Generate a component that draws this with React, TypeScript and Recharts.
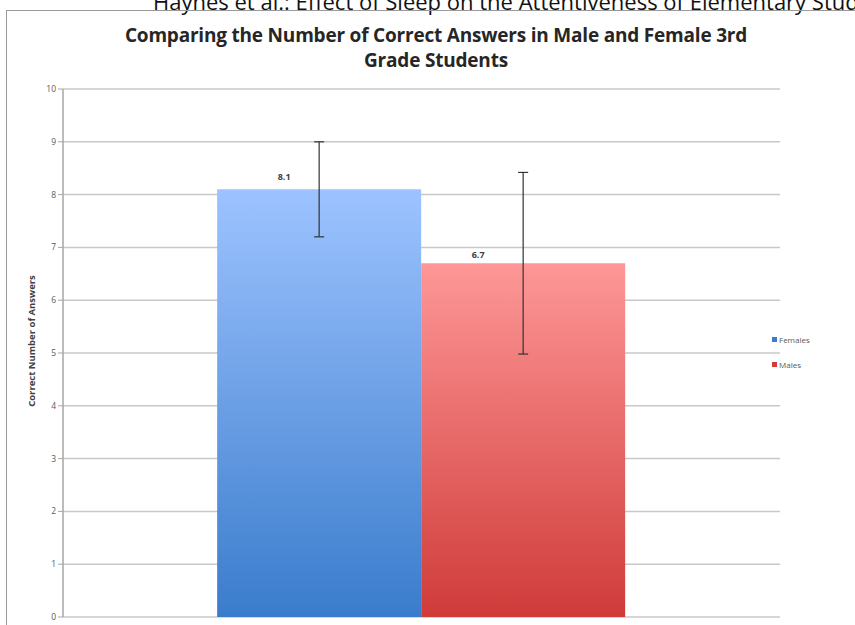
import React from 'react';
import { BarChart, Bar, XAxis, YAxis, CartesianGrid, ErrorBar } from 'recharts';

// values
const groups = ['Females', 'Males'];
const meanAnswers = [8.1, 6.7];
const errorAnswers = [0.9, 1.72];
const yTicks = [0, 1, 2, 3, 4, 5, 6, 7, 8, 9, 10];

const keys = ['females', 'males'];
const gradients: Record<string, [string, string]> = {
  females: ['#9dc3ff', '#3a7ccc'],
  males: ['#fe9797', '#cf3b39'],
};
const labelShift: Record<string, [number, number]> = {
  females: [-35, -9],
  males: [-45, -5],
};

const row: Record<string, number | string> = { name: '' };
keys.forEach((k, i) => {
  row[k] = meanAnswers[i];
  row[k + 'Err'] = errorAnswers[i];
});
const data = [row];

const font = '"Open Sans", sans-serif';

const ValueLabel = (seriesKey: string) => (props: any) => {
  const { x, y, width, value } = props;
  const [dx, dy] = labelShift[seriesKey];
  return (
    <text
      x={x + width / 2 + dx}
      y={y + dy}
      textAnchor="middle"
      fontSize={9}
      fontWeight="bold"
      fill="#404040"
      fontFamily={font}
    >
      {value}
    </text>
  );
};

export default function App() {
  return (
    <div
      style={{
        position: 'absolute',
        left: 0,
        top: 0,
        width: 855,
        height: 625,
        overflow: 'hidden',
        background: '#fff',
        fontFamily: font,
      }}
    >
      <div
        style={{
          position: 'absolute',
          left: 153,
          top: -14,
          fontSize: 22,
          lineHeight: '30px',
          whiteSpace: 'nowrap',
          color: '#111',
        }}
      >
        Haynes et al.: Effect of Sleep on the Attentiveness of Elementary Students
      </div>
      <div
        style={{
          position: 'absolute',
          left: 6,
          top: 10,
          width: 860,
          height: 630,
          borderLeft: '1.5px solid #9a9a9a',
          borderTop: '1.5px solid #9a9a9a',
        }}
      />
      <div
        style={{
          position: 'absolute',
          left: 0,
          top: 23,
          width: 872,
          textAlign: 'center',
          fontSize: 19,
          fontWeight: 'bold',
          lineHeight: '25px',
          color: '#262626',
          letterSpacing: -0.2,
        }}
      >
        Comparing the Number of Correct Answers in Male and Female 3rd
        <br />
        Grade Students
      </div>
      <div style={{ position: 'absolute', left: 0, top: 0 }}>
        <BarChart
          width={855}
          height={625}
          data={data}
          margin={{ top: 89, right: 75, bottom: 8, left: 33 }}
          barCategoryGap="21.5%"
          barGap={0}
        >
          <defs>
            {keys.map((k) => (
              <linearGradient key={k} id={'grad-' + k} x1="0" y1="0" x2="0" y2="1">
                <stop offset="0%" stopColor={gradients[k][0]} />
                <stop offset="100%" stopColor={gradients[k][1]} />
              </linearGradient>
            ))}
          </defs>
          <CartesianGrid vertical={false} stroke="#c8c8c8" strokeWidth={1.5} />
          <XAxis dataKey="name" hide />
          <YAxis
            width={30}
            domain={[0, 10]}
            ticks={yTicks}
            interval={0}
            axisLine={{ stroke: '#a6a6a6', strokeWidth: 1.5 }}
            tickLine={{ stroke: '#a6a6a6' }}
            tickSize={5}
            tick={{ fontSize: 8.5, fill: '#595959', fontFamily: font }}
            label={{
              value: 'Correct Number of Answers',
              angle: -90,
              position: 'insideLeft',
              dx: -6,
              dy: -12,
              style: {
                textAnchor: 'middle',
                fontSize: 9.5,
                fontWeight: 'bold',
                fill: '#404040',
                fontFamily: font,
              },
            }}
          />
          {keys.map((k, i) => (
            <Bar
              key={k}
              dataKey={k}
              name={groups[i]}
              fill={`url(#grad-${k})`}
              isAnimationActive={false}
              label={ValueLabel(k)}
            >
              <ErrorBar dataKey={k + 'Err'} width={5} stroke="#333" strokeWidth={1.2} direction="y" />
            </Bar>
          ))}
        </BarChart>
      </div>
      <div
        style={{
          position: 'absolute',
          left: 772,
          top: 327,
          fontSize: 8,
          color: '#595959',
        }}
      >
        {groups.map((g, i) => (
          <div key={g} style={{ display: 'flex', alignItems: 'center', height: 25 }}>
            <span
              style={{
                display: 'inline-block',
                width: 5,
                height: 5,
                marginRight: 2,
                background: gradients[keys[i]][1],
              }}
            />
            {g}
          </div>
        ))}
      </div>
    </div>
  );
}
